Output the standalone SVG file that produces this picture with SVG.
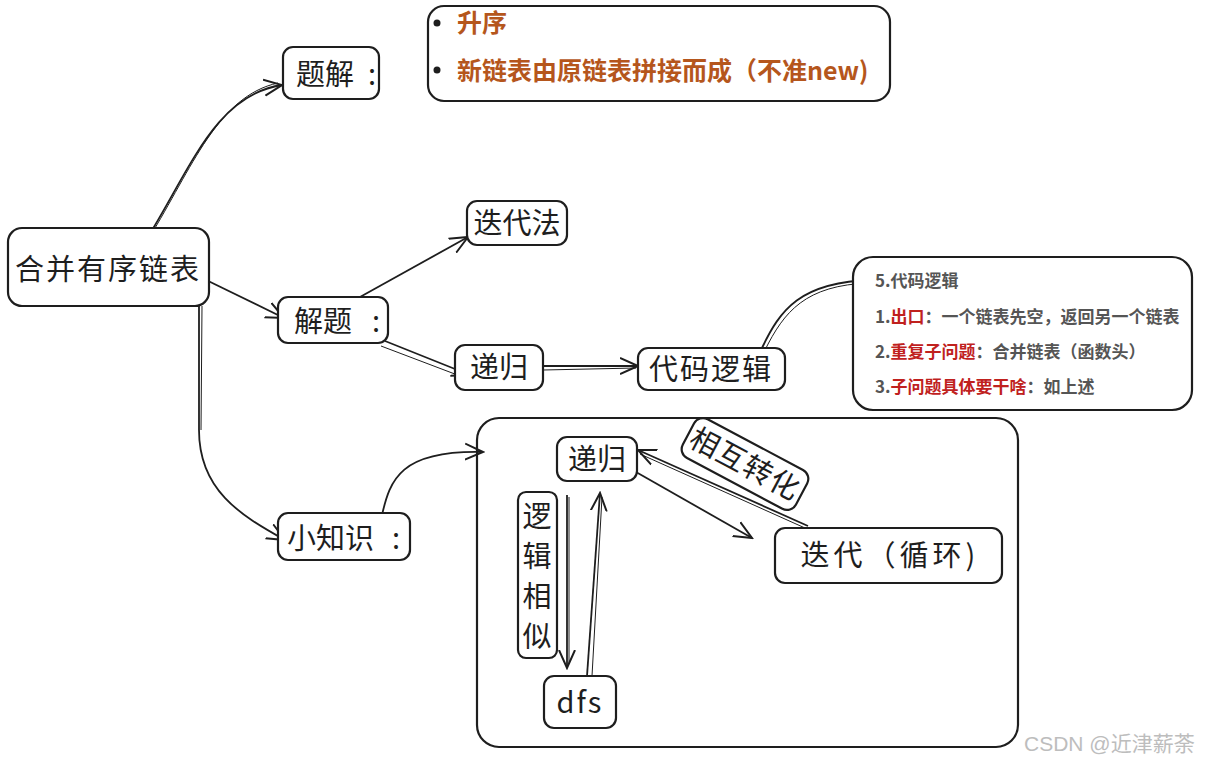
<svg xmlns="http://www.w3.org/2000/svg" width="1210" height="762" viewBox="0 0 1210 762">
<defs>
<marker id="ah" viewBox="0 0 20 20" refX="18" refY="10" markerWidth="20" markerHeight="20" markerUnits="userSpaceOnUse" orient="auto">
<path d="M0,2 L18,10 L0,18" fill="none" stroke="#1e1e1e" stroke-width="2"/>
</marker>
</defs>
<style>
.box{fill:#fff;stroke:#1e1e1e;stroke-width:2.2}
.frame{fill:none;stroke:#1e1e1e;stroke-width:2.2}
.t{font-family:"Noto Sans CJK SC","Noto Sans",sans-serif;fill:#1e1e1e;font-size:29px}
.c{fill:none;stroke:#1e1e1e;stroke-width:1.8;marker-end:url(#ah)}
.c2{fill:none;stroke:#1e1e1e;stroke-width:1}
.o{font-family:"Noto Sans CJK SC","Noto Sans",sans-serif;font-weight:bold;fill:#b5561c;font-size:25px}
.g{font-family:"Noto Sans CJK SC","Noto Sans",sans-serif;font-weight:bold;fill:#555;font-size:17px}
.r{fill:#c0211e}
</style>
<rect width="1210" height="762" fill="#fff"/>
<g id="container">
<rect class="frame" x="477" y="418" width="541" height="329" rx="22"/>
</g>
<g id="connectors">
<path class="c" d="M146,240 C190,170 215,95 282,85"/>
<path class="c2" d="M149,238 C192,168 218,96 278,83"/>
<path class="c" d="M200,277 L284,318"/>
<path class="c" d="M199,306 L199,430 C199,490 240,515 285,540"/>
<path class="c2" d="M202,306 L201,430"/>
<path class="c" d="M360,297 L468,237"/>
<path class="c" d="M385,341 L470,375"/>
<path class="c2" d="M381,346 L468,379"/>
<path class="c" d="M542,366 L638,366"/>
<path class="c2" d="M543,370 L636,368"/>
<path class="c" d="M762,348 C780,310 800,282 872,280"/>
<path class="c2" d="M765,350 C784,312 805,285 870,283"/>
<path class="c" d="M382,515 C390,480 400,450 483,452"/>
<path class="c" d="M636,472 L752,538"/>
<path class="c" d="M808,526 L638,450"/>
<path class="c2" d="M805,528 L640,454"/>
<path class="c" d="M567,495 L567,668"/>
<path class="c2" d="M569,497 L569,664"/>
<path class="c" d="M587,676 L600,493"/>
<path class="c2" d="M592,676 L602,497"/>
</g>
<g id="main">
<rect class="box" x="8" y="228" width="201" height="78" rx="14"/>
<text class="t" x="108" y="280" text-anchor="middle" font-size="30" letter-spacing="2">合并有序链表</text>
</g>
<g id="tijie">
<rect class="box" x="283" y="47" width="96" height="52" rx="10"/>
<text class="t" x="296" y="85" font-size="27">题解</text>
<text class="t" x="368" y="85" font-size="27">:</text>
</g>
<g id="note-top">
<rect class="box" x="428" y="6" width="462" height="95" rx="16"/>
<circle cx="437" cy="23" r="3.5" fill="#1e1e1e"/>
<circle cx="437" cy="70" r="3.5" fill="#1e1e1e"/>
<text class="o" x="457" y="32">升序</text>
<text class="o" x="457" y="80">新链表由原链表拼接而成（不准new)</text>
</g>
<g id="jieti">
<rect class="box" x="278" y="297" width="110" height="46" rx="10"/>
<text class="t" x="294" y="332">解题</text>
<text class="t" x="372" y="332">:</text>
</g>
<g id="diedaifa">
<rect class="box" x="467" y="201" width="100" height="44" rx="10"/>
<text class="t" x="517" y="234" text-anchor="middle">迭代法</text>
</g>
<g id="digui1">
<rect class="box" x="455" y="345" width="88" height="45" rx="10"/>
<text class="t" x="499" y="378" text-anchor="middle">递归</text>
</g>
<g id="daima">
<rect class="box" x="638" y="348" width="147" height="42" rx="10"/>
<text class="t" x="711" y="380" text-anchor="middle" letter-spacing="2">代码逻辑</text>
</g>
<g id="note-right">
<rect class="box" x="853" y="257" width="339" height="153" rx="20"/>
<text class="g" x="875" y="287">5.代码逻辑</text>
<text class="g" x="875" y="323">1.<tspan class="r">出口</tspan>：一个链表先空，返回另一个链表</text>
<text class="g" x="875" y="358">2.<tspan class="r">重复子问题</tspan>：合并链表（函数头）</text>
<text class="g" x="875" y="393">3.<tspan class="r">子问题具体要干啥</tspan>：如上述</text>
</g>
<g id="xiaozhishi">
<rect class="box" x="278" y="513" width="132" height="47" rx="10"/>
<text class="t" x="287" y="549">小知识</text>
<text class="t" x="392" y="549">:</text>
</g>
<g id="digui2">
<rect class="box" x="557" y="437" width="80" height="44" rx="10"/>
<text class="t" x="597" y="470" text-anchor="middle">递归</text>
</g>
<g id="luoji">
<rect class="box" x="518" y="492" width="39" height="166" rx="8"/>
<text class="t" x="537" y="527" text-anchor="middle" font-size="28">逻</text>
<text class="t" x="537" y="567" text-anchor="middle" font-size="28">辑</text>
<text class="t" x="537" y="607" text-anchor="middle" font-size="28">相</text>
<text class="t" x="537" y="647" text-anchor="middle" font-size="28">似</text>
</g>
<g id="dfs">
<rect class="box" x="544" y="676" width="72" height="52" rx="10"/>
<text class="t" x="580" y="713" text-anchor="middle" font-size="30" letter-spacing="2">dfs</text>
</g>
<g id="diedai">
<rect class="box" x="775" y="528" width="227" height="55" rx="10"/>
<text class="t" x="890" y="566" text-anchor="middle" font-size="30" letter-spacing="4">迭代（循环)</text>
</g>
<g id="huzhuan" transform="translate(745,464) rotate(28)">
<rect class="box" x="-64" y="-22" width="128" height="44" rx="10"/>
<text class="t" x="0" y="10" text-anchor="middle" letter-spacing="1">相互转化</text>
</g>
<text x="1024" y="751" font-family="'Liberation Sans',sans-serif" font-size="21" fill="#bdbdbd">CSDN @<tspan font-family="'Noto Sans CJK SC',sans-serif">近津薪荼</tspan></text>
</svg>
